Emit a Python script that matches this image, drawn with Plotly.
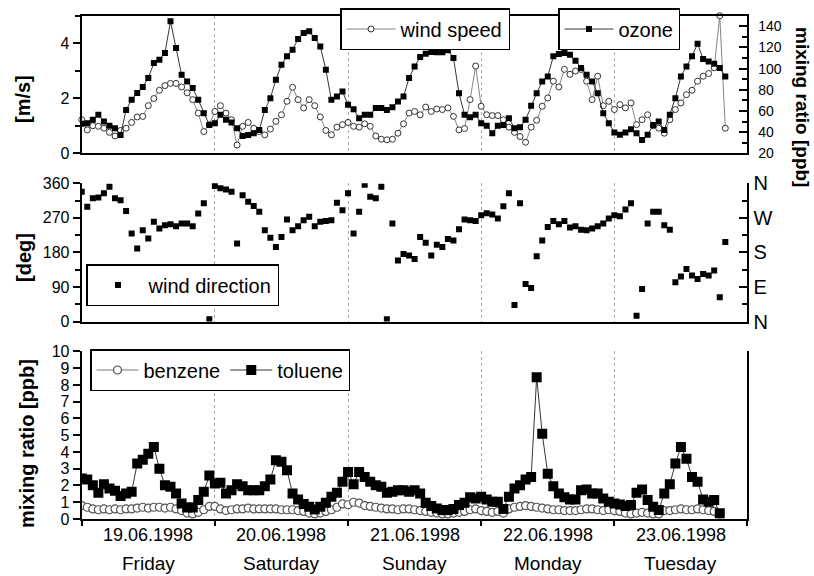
import plotly.graph_objects as go

# ---------------- data (hourly, hours since 19.06.1998 00:00) ----------------
ozone_ppb = [47.8, 48.4, 51.6, 56.3, 50.0, 45.9, 43.7, 37.3, 61.0, 70.5, 76.9, 82.6, 91.1, 105.3, 108.4, 114.8,
             144.7, 119.5, 94.2, 87.9, 81.6, 70.5, 57.9, 46.8, 48.4, 56.3, 51.6, 49.0, 43.7, 36.4, 37.3, 39.0,
             42.1, 61.0, 72.1, 89.5, 103.7, 111.6, 117.9, 128.1, 133.7, 135.3, 129.0, 121.0, 99.0, 70.5, 73.7, 78.4,
             65.8, 61.7, 53.2, 56.3, 56.3, 62.7, 62.7, 61.0, 63.6, 68.9, 73.7, 91.1, 102.1, 110.9, 114.1, 115.7,
             115.4, 115.4, 117.3, 110.0, 76.8, 56.3, 54.1, 56.3, 48.4, 45.9, 38.9, 45.9, 46.8, 53.2, 43.7, 44.6,
             51.6, 64.8, 76.8, 87.9, 92.6, 111.6, 113.8, 114.7, 113.1, 107.5, 100.5, 94.2, 87.9, 76.8, 57.9, 48.4,
             39.6, 37.4, 39.6, 42.7, 38.9, 32.6, 37.4, 46.8, 50.0, 42.1, 56.3, 72.1, 92.6, 102.1, 111.6, 123.6,
             109.0, 106.8, 104.6, 100.5, 92.6]

wind_speed_ms = [1.22, 0.85, 1.00, 0.98, 0.91, 0.76, 0.63, 0.83, 0.91, 1.12, 1.32, 1.34, 1.73, 1.99, 2.29, 2.46,
                 2.54, 2.54, 2.41, 2.20, 1.95, 1.46, 0.79, 1.04, 1.52, 1.73, 1.46, 1.22, 0.30, 0.98, 1.12, 0.91,
                 0.79, 0.67, 0.88, 1.16, 1.40, 1.89, 2.40, 1.95, 1.65, 1.95, 1.73, 1.32, 0.83, 0.67, 0.95, 1.04,
                 1.12, 0.98, 0.95, 1.07, 0.98, 0.63, 0.51, 0.49, 0.51, 0.73, 1.07, 1.46, 1.52, 1.40, 1.68, 1.52,
                 1.61, 1.59, 1.65, 1.34, 0.85, 0.90, 1.95, 3.17, 1.71, 1.40, 1.37, 1.37, 1.22, 0.95, 0.76, 0.61,
                 0.40, 0.95, 1.20, 1.71, 2.01, 2.62, 2.41, 3.05, 2.87, 2.99, 3.05, 2.62, 1.95, 2.80, 1.73, 1.89,
                 1.59, 1.77, 1.65, 1.83, 1.04, 1.22, 1.40, 1.00, 0.91, 0.73, 1.22, 1.59, 1.83, 2.13, 2.29, 2.62,
                 2.80, 2.90, 3.11, 5.00, 0.91]

wind_dir_deg = [338, 299, 321, 323, 334, 351, 321, 316, 288, 229, 190, 238, 216, 260, 242, 251,
                253, 248, 255, 255, 248, 281, 308, 6, 353, 347, 344, 338, 203, 329, 312, 301,
                286, 238, 218, 194, 220, 266, 238, 248, 264, 273, 248, 260, 262, 264, 309, 290,
                334, 229, 286, 356, 325, 321, 351, 6, 255, 159, 176, 172, 163, 220, 205, 172,
                200, 194, 215, 211, 240, 266, 264, 262, 277, 282, 279, 268, 300, 334, 43, 308,
                98, 87, 170, 211, 246, 262, 253, 262, 245, 248, 239, 238, 242, 248, 255, 268,
                277, 274, 292, 308, 15, 85, 255, 286, 286, 251, 239, 102, 117, 137, 120, 111,
                124, 120, 133, 63, 207]

toluene_ppb = [2.42, 2.36, 2.02, 1.56, 2.08, 1.82, 1.68, 1.37, 1.52, 1.62, 3.31, 3.54, 3.90, 4.30, 3.00, 2.02,
               1.92, 1.52, 0.93, 0.69, 0.69, 1.13, 1.62, 2.60, 2.12, 2.16, 1.52, 1.72, 2.08, 1.96, 1.72, 1.72,
               1.72, 1.96, 2.36, 3.50, 3.41, 2.91, 1.52, 1.17, 0.89, 0.73, 0.57, 0.73, 0.97, 1.33, 1.56, 2.22,
               2.81, 2.08, 2.81, 2.51, 2.22, 2.02, 1.92, 1.56, 1.62, 1.72, 1.72, 1.62, 1.72, 1.52, 0.97, 0.77,
               0.63, 0.53, 0.53, 0.59, 0.83, 0.97, 1.29, 1.23, 1.33, 1.17, 1.03, 1.03, 0.60, 1.33, 1.82, 2.02,
               2.36, 2.51, 8.46, 5.09, 2.70, 1.96, 1.52, 1.29, 1.17, 1.17, 1.72, 1.76, 1.52, 1.52, 1.23, 1.03,
               0.93, 0.87, 0.77, 0.83, 1.56, 1.76, 1.13, 0.73, 0.53, 1.52, 2.08, 3.31, 4.30, 3.60, 2.51, 2.22,
               1.17, 1.03, 1.13, 0.34]

benzene_ppb = [0.80, 0.70, 0.60, 0.55, 0.60, 0.55, 0.60, 0.55, 0.60, 0.60, 0.65, 0.70, 0.65, 0.70, 0.70, 0.65,
               0.70, 0.60, 0.50, 0.35, 0.30, 0.40, 0.55, 0.75, 0.75, 0.60, 0.50, 0.55, 0.60, 0.60, 0.65, 0.60,
               0.60, 0.60, 0.60, 0.60, 0.55, 0.55, 0.55, 0.50, 0.45, 0.35, 0.30, 0.35, 0.45, 0.55, 0.70, 0.90,
               0.85, 1.00, 0.95, 0.80, 0.75, 0.70, 0.65, 0.60, 0.60, 0.55, 0.60, 0.60, 0.55, 0.50, 0.45, 0.40,
               0.35, 0.30, 0.30, 0.35, 0.40, 0.45, 0.55, 0.60, 0.50, 0.45, 0.40, 0.45, 0.35, 0.60, 0.70, 0.75,
               0.80, 0.75, 0.70, 0.65, 0.60, 0.55, 0.55, 0.50, 0.50, 0.50, 0.55, 0.60, 0.60, 0.55, 0.50, 0.55,
               0.50, 0.45, 0.35, 0.30, 0.35, 0.40, 0.35, 0.30, 0.30, 0.50, 0.50, 0.55, 0.60, 0.55, 0.55, 0.60,
               0.55, 0.50, 0.45, 0.30]

day_dates = ["19.06.1998", "20.06.1998", "21.06.1998", "22.06.1998", "23.06.1998"]
day_names = ["Friday", "Saturday", "Sunday", "Monday", "Tuesday"]
day_bounds = [0, 24, 48, 72, 96, 120]
compass_vals = [0, 90, 180, 270, 360]
compass_text = ["N", "E", "S", "W", "N"]

hours_oz = list(range(len(ozone_ppb)))
hours_ws = list(range(len(wind_speed_ms)))
hours_wd = list(range(len(wind_dir_deg)))
hours_tol = list(range(len(toluene_ppb)))
hours_ben = list(range(len(benzene_ppb)))

FONT = "Liberation Sans, Arial, Helvetica, sans-serif"
XD = [0.1004, 0.9183]

fig = go.Figure()

fig.add_trace(go.Scatter(x=hours_ws, y=wind_speed_ms, xaxis="x", yaxis="y", mode="lines+markers",
                         name="wind speed", legend="legend", cliponaxis=False,
                         line=dict(color="#666666", width=0.8),
                         marker=dict(symbol="circle", size=6, color="white", line=dict(color="#333333", width=1))))
fig.add_trace(go.Scatter(x=hours_oz, y=ozone_ppb, xaxis="x", yaxis="y2", mode="lines+markers",
                         name="ozone", legend="legend2",
                         line=dict(color="black", width=0.8),
                         marker=dict(symbol="square", size=6, color="black")))
fig.add_trace(go.Scatter(x=hours_wd, y=wind_dir_deg, xaxis="x2", yaxis="y3", mode="markers",
                         name="wind direction", legend="legend3",
                         marker=dict(symbol="square", size=6, color="black")))
fig.add_trace(go.Scatter(x=[None], y=[None], xaxis="x2", yaxis="y4", showlegend=False, hoverinfo="skip"))
fig.add_trace(go.Scatter(x=hours_ben, y=benzene_ppb, xaxis="x3", yaxis="y5", mode="lines+markers",
                         name="benzene", legend="legend4",
                         line=dict(color="#555555", width=0.8),
                         marker=dict(symbol="circle", size=8, color="white", line=dict(color="#555555", width=1.2))))
fig.add_trace(go.Scatter(x=hours_tol, y=toluene_ppb, xaxis="x3", yaxis="y5", mode="lines+markers",
                         name="toluene", legend="legend4",
                         line=dict(color="black", width=0.8),
                         marker=dict(symbol="square", size=10, color="black")))

xcommon = dict(range=[0, 120], domain=XD, tickvals=day_bounds, showticklabels=False, automargin=False,
               showgrid=True, gridcolor="#a8a8a8", griddash="dot", gridwidth=1,
               zeroline=False, showline=True, linecolor="black", linewidth=2)
ycommon = dict(showgrid=False, zeroline=False, showline=True, linecolor="black", linewidth=2, automargin=False,
               tickfont=dict(family=FONT, size=16, color="black"), tickcolor="black", tickwidth=1.5)

leg = dict(xanchor="left", yanchor="top", bgcolor="white", bordercolor="black", borderwidth=1.5,
           font=dict(family=FONT, size=20, color="black"))

fig.update_layout(
    width=814, height=576, margin=dict(l=0, r=0, t=0, b=0, autoexpand=False),
    paper_bgcolor="white", plot_bgcolor="white",
    font=dict(family=FONT, color="black"),
    xaxis=dict(xcommon, anchor="y", mirror=True, ticks=""),
    xaxis2=dict(xcommon, anchor="y3", ticks=""),
    xaxis3=dict(xcommon, anchor="y5", ticks="outside", ticklen=5, tickwidth=1.5, tickcolor="black"),
    yaxis=dict(ycommon, domain=[0.7339, 0.9727], anchor="x", range=[0, 5], tick0=0, dtick=2,
               ticks="outside", ticklen=7,
               minor=dict(dtick=1, ticks="outside", ticklen=5, tickcolor="black", tickwidth=1.5)),
    yaxis2=dict(ycommon, overlaying="y", side="right", anchor="x", range=[20, 150], tick0=20, dtick=20,
                ticks="inside", ticklen=8, ticklabelstandoff=6, tickfont=dict(family=FONT, size=14, color="black"),
                minor=dict(dtick=10, ticks="inside", ticklen=5, tickcolor="black", tickwidth=1.5)),
    yaxis3=dict(ycommon, domain=[0.4418, 0.6818], anchor="x2", range=[0, 360], tick0=0, dtick=90,
                ticks="outside", ticklen=7,
                minor=dict(dtick=45, ticks="outside", ticklen=5, tickcolor="black", tickwidth=1.5)),
    yaxis4=dict(ycommon, overlaying="y3", side="right", anchor="x2", range=[0, 360],
                tickmode="array", tickvals=compass_vals, ticktext=compass_text,
                ticks="inside", ticklen=8, tickfont=dict(family=FONT, size=20, color="black"),
                minor=dict(tickvals=[45, 135, 225, 315], ticks="inside", ticklen=5, tickcolor="black", tickwidth=1.5)),
    yaxis5=dict(ycommon, domain=[0.0990, 0.3898], anchor="x3", range=[0, 10], tick0=0, dtick=1,
                ticks="outside", ticklen=7, mirror=True),
    legend=dict(leg, x=340 / 814, y=1 - 8 / 576, itemwidth=49),
    legend2=dict(leg, x=558 / 814, y=1 - 8 / 576, itemwidth=49),
    legend3=dict(leg, x=86 / 814, y=1 - 264 / 576, itemwidth=51),
    legend4=dict(leg, x=90 / 814, y=1 - 349 / 576, orientation="h", itemwidth=42),
)

ann = []
for i in range(len(day_dates)):
    mid = (day_bounds[i] + day_bounds[i + 1]) / 2
    ann.append(dict(x=mid, xref="x3", y=1 - 535 / 576, yref="paper", text=day_dates[i], showarrow=False,
                    font=dict(family=FONT, size=18, color="black"), xanchor="center", yanchor="middle"))
    ann.append(dict(x=mid, xref="x3", y=1 - 563 / 576, yref="paper", text=day_names[i], showarrow=False,
                    font=dict(family=FONT, size=19, color="black"), xanchor="center", yanchor="middle"))

titles = [("[m/s]", 23, 99, -90, 20), ("[deg]", 24, 258, -90, 20), ("mixing ratio [ppb]", 27, 444, -90, 20),
          ("mixing ratio [ppb]", 802, 107, 90, 19)]
for t, px, py, ang, fs in titles:
    ann.append(dict(x=px / 814, xref="paper", y=1 - py / 576, yref="paper", text="<b>" + t + "</b>",
                    textangle=ang, showarrow=False, xanchor="center", yanchor="middle", borderpad=0,
                    font=dict(family=FONT, size=fs, color="black")))
fig.update_layout(annotations=ann)

fig.write_html("out.html")
